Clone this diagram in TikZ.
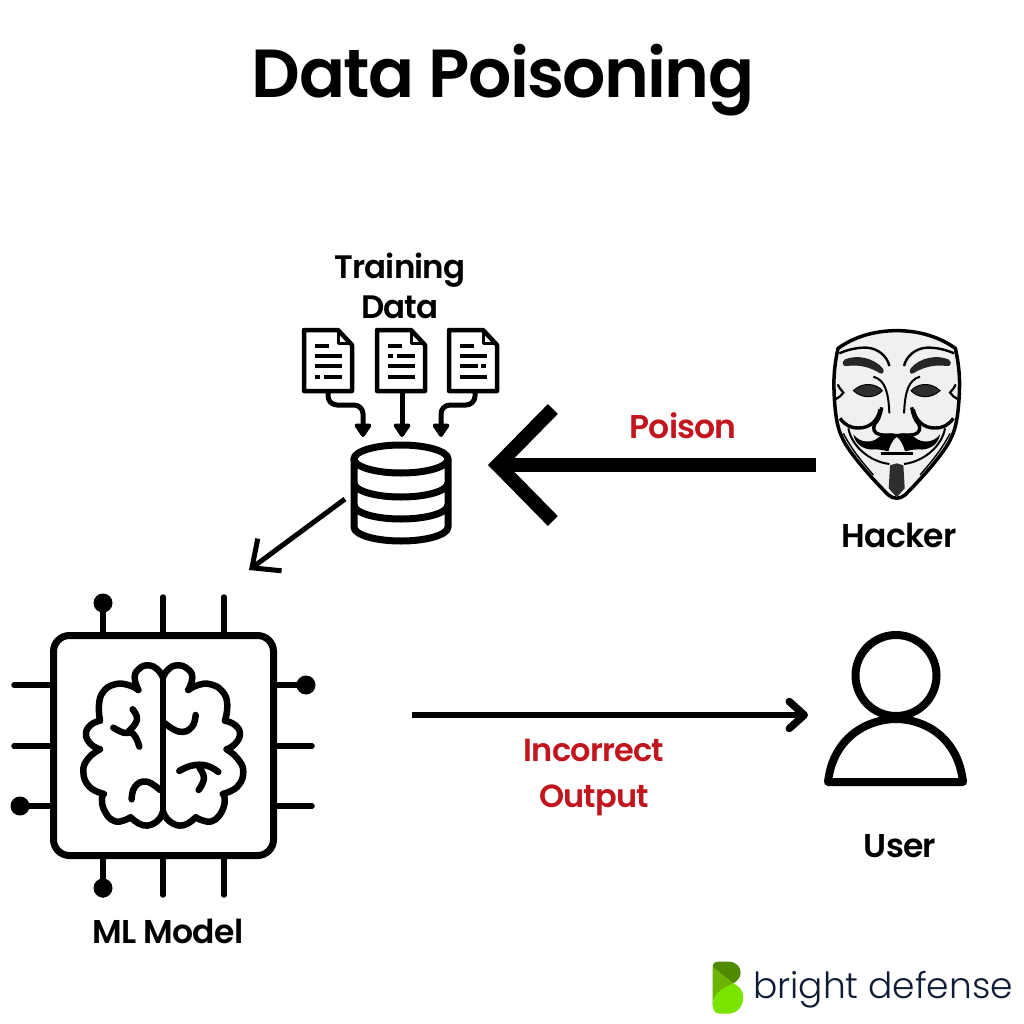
\documentclass[tikz,border=0pt]{standalone}
\usepackage{fontspec}
\setmainfont{Poppins}[BoldFont={Poppins SemiBold}, BoldFeatures={LetterSpace=-2.5}]
\newfontfamily\logofont{Poppins Light}
\usetikzlibrary{arrows.meta}
\definecolor{poisonred}{HTML}{C1161E}
\definecolor{maskgrey}{HTML}{F0F0F0}
\definecolor{maskdark}{HTML}{2E2E2E}
\definecolor{logonavy}{HTML}{101B35}
\definecolor{logodark}{HTML}{4F8A00}
\definecolor{logomid}{HTML}{6DB400}
\definecolor{logolight}{HTML}{7BE300}
\tikzset{
    main label/.style={font=\fontsize{33}{33}\selectfont\bfseries, align=center, inner sep=0pt, text=black},
    red label/.style={main label, text=poisonred},
    page line/.style={line width=4pt, line cap=butt},
    doc arrow/.style={line width=5pt, rounded corners=9pt, -{Triangle[length=15pt,width=19pt,round]}},
    pin/.style={line width=5.5pt, line cap=round},
    brain line/.style={line width=6.5pt, line cap=round, line join=round},
    pics/docpage/.style={code={
        \draw[line width=4.5pt, line join=round, fill=white] (0,0) -- (34,0) -- (48,15) -- (48,61) -- (0,61) -- cycle;
        \draw[line width=3pt, line join=round] (34,1) -- (34,13) -- (47,13);
    }}
}
\begin{document}
\begin{tikzpicture}[x=1pt, y=-1pt]
    \tikzstyle{every node}=[inner sep=0pt]
    \fill[white] (0,0) rectangle (1024,1024);
    \useasboundingbox (0,0) rectangle (1024,1024);

    \node[main label, font=\fontsize{68}{68}\selectfont\bfseries] (title) at (503,80) {Data Poisoning};
    \node[main label, font=\fontsize{32.5}{40}\selectfont\bfseries] (training) at (400,286) {Training\\Data};
    \node[main label] (hackerlabel) at (899,535) {Hacker};
    \node[main label] (userlabel) at (900,846) {User};
    \node[main label] (modellabel) at (168,931) {ML Model};
    \node[red label] (poison) at (683,426) {Poison};
    \node[red label, font=\fontsize{32}{46}\selectfont\bfseries] (output) at (594,778) {Incorrect\\Output};

    \pic (doca) at (304,330) {docpage};
    \pic (docb) at (377,330) {docpage};
    \pic (docc) at (449,330) {docpage};
    \foreach \x/\y/\w in {315/346/14, 315/356/27, 315/366/27, 324/377/18, 388/346/14, 397/356/18, 388/366/27, 388/377/27, 460/346/14, 460/356/27, 460/366/18, 460/377/27}
        \draw[page line] (\x,\y) -- ++(\w,0);
    \foreach \x/\y in {315/377, 388/356, 481/366}
        \fill (\x,\y-2) rectangle ++(4.5,4);

    \coordinate (docaout) at (328,391);
    \coordinate (docbout) at (402,391);
    \coordinate (doccout) at (475,391);
    \coordinate (dbtopa) at (363,437);
    \coordinate (dbtopb) at (402,437);
    \coordinate (dbtopc) at (441,437);
    \draw[doc arrow] (docaout) -- (328,405) -- (363,405) -- (dbtopa);
    \draw[doc arrow] (docbout) -- (dbtopb);
    \draw[doc arrow] (doccout) -- (475,405) -- (441,405) -- (dbtopc);

    \draw[line width=7pt, line join=round] (354,459) -- (354,527) arc[start angle=180, end angle=360, x radius=47pt, y radius=14pt] -- (448,459);
    \draw[line width=7pt] (401,459) ellipse [x radius=47pt, y radius=14pt];
    \foreach \y in {483,505}
        \draw[line width=7pt] (354,\y) arc[start angle=180, end angle=360, x radius=47pt, y radius=14pt];

    \coordinate (maskleft) at (816,465);
    \coordinate (dbright) at (488,465);
    \coordinate (dbleft) at (345,499);
    \coordinate (chiptop) at (249,570);
    \coordinate (chipright) at (412,715);
    \coordinate (userleft) at (808,715);
    \path (maskleft) edge[line width=14pt, -{Straight Barb[length=55pt,width=112pt,line width=14pt]}] (dbright);
    \path (dbleft) edge[line width=5pt, -{Straight Barb[length=22pt,width=40pt,line width=5pt]}] (chiptop);
    \path (chipright) edge[line width=6.5pt, -{Straight Barb[round,length=15pt,width=27pt,line width=7.5pt]}] (userleft);

    \node[draw, line width=7pt, rounded corners=16pt, minimum size=220pt] (chip) at (163.5,745.5) {};
    \foreach \x in {103,163,224} {
        \draw[pin] (\x,597) -- (\x,632);
        \draw[pin] (\x,859) -- (\x,895);
    }
    \foreach \y in {685,746,806} {
        \draw[pin] (14,\y) -- (50,\y);
        \draw[pin] (277,\y) -- (312,\y);
    }
    \foreach \x/\y in {103/603, 103/888, 306/685, 20/806}
        \fill (\x,\y) circle (9.5pt);

    \begin{scope}[shift={(0,590)}, x=0.3333pt, y=-0.3333pt]
        \draw[brain line] (489,255) -- (489,670);
        \draw[brain line] plot[smooth, tension=.8] coordinates {(489,262) (472,238) (445,226) (418,236) (404,262) (415,300)};
        \draw[brain line] plot[smooth, tension=.8] coordinates {(415,300) (385,285) (345,283) (310,305) (297,345) (300,392)};
        \draw[brain line] plot[smooth, tension=.8] coordinates {(300,392) (272,405) (258,432) (272,462) (300,478)};
        \draw[brain line] plot[smooth, tension=.8] coordinates {(300,478) (265,505) (250,545) (268,590) (312,612)};
        \draw[brain line] plot[smooth, tension=.8] coordinates {(308,612) (310,655) (345,694) (392,682)};
        \draw[brain line] plot[smooth, tension=.8] coordinates {(392,682) (430,706) (470,695) (489,665)};
        \draw[brain line] plot[smooth, tension=.8] coordinates {(395,628) (405,590) (440,575) (480,600)};
        \draw[brain line] plot[smooth, tension=.8] coordinates {(398,358) (411,390) (385,425)};
        \draw[brain line] plot[smooth, tension=.8] coordinates {(340,413) (370,428) (400,432) (418,470)};
        \draw[brain line] plot[smooth, tension=.8] coordinates {(489,262) (505,238) (532,226) (562,236) (577,262) (565,300)};
        \draw[brain line] plot[smooth, tension=.8] coordinates {(565,300) (595,285) (632,283) (668,305) (682,345) (675,392)};
        \draw[brain line] plot[smooth, tension=.8] coordinates {(675,392) (705,405) (720,432) (705,462) (680,478)};
        \draw[brain line] plot[smooth, tension=.8] coordinates {(680,478) (712,505) (730,545) (712,590) (668,612)};
        \draw[brain line] plot[smooth, tension=.8] coordinates {(672,612) (670,655) (635,694) (587,682)};
        \draw[brain line] plot[smooth, tension=.8] coordinates {(587,682) (550,706) (510,695) (489,665)};
        \draw[brain line] plot[smooth, tension=.8] coordinates {(587,375) (575,412) (538,425) (495,400)};
        \draw[brain line] plot[smooth, tension=.8] coordinates {(538,543) (575,527) (620,527) (655,546)};
        \draw[brain line] plot[smooth, tension=.8] coordinates {(598,533) (612,565) (596,600)};
    \end{scope}

    \begin{scope}[shift={(896.7,320)}, x=0.3333pt, y=-0.3333pt]
        \draw[line width=3.5pt, line join=round, fill=maskgrey] (0,32) .. controls (-70,32) and (-130,52) .. (-176,85)
            .. controls (-186,130) and (-190,170) .. (-188,215) .. controls (-186,270) and (-180,320) .. (-165,350)
            .. controls (-145,400) and (-60,490) .. (-25,525) .. controls (-10,538) and (10,538) .. (25,525)
            .. controls (60,490) and (145,400) .. (165,350) .. controls (180,320) and (186,270) .. (188,215)
            .. controls (190,170) and (186,130) .. (176,85) .. controls (130,52) and (70,32) .. (0,32) -- cycle;
        \fill[maskdark, line join=round] (0,430) -- (20,436) -- (24,505) -- (0,532) -- (-24,505) -- (-20,436) -- cycle;
        \draw[line width=2.8pt] (-48,400) -- (48,400);
    \end{scope}
    \foreach \sx in {0.3333pt,-0.3333pt} {
        \begin{scope}[shift={(896.7,320)}, x=\sx, y=-0.3333pt]
            \fill[black!85] (42,145) .. controls (70,112) and (120,104) .. (155,118) .. controls (168,128) and (162,140) .. (150,138) .. controls (110,132) and (75,144) .. (50,160) .. controls (40,165) and (36,152) .. (42,145) -- cycle;
            \draw[line width=2.4pt] (22,138) .. controls (28,110) and (55,85) .. (90,83) .. controls (120,82) and (150,90) .. (172,100);
            \fill[maskdark, draw=black, line width=1pt] (43,212) .. controls (60,192) and (100,183) .. (130,212) .. controls (100,240) and (60,232) .. (43,212) -- cycle;
            \draw[line width=2pt] (70,170) .. controls (35,180) and (25,215) .. (22,280);
            \draw[line width=2.2pt, line cap=round] (176,195) .. controls (170,210) and (162,212) .. (160,218) .. controls (165,228) and (175,232) .. (184,238);
            \draw[line width=3.4pt, line join=round] (45,262) .. controls (50,290) and (55,300) .. (66,312) .. controls (72,325) and (70,340) .. (50,344) .. controls (30,347) and (15,345) .. (0,347);
            \draw[line width=3.4pt] (50,268) .. controls (55,300) and (80,325) .. (115,324) .. controls (140,324) and (155,315) .. (170,295);
            \fill[black] (0,345) .. controls (20,333) and (45,343) .. (55,353) .. controls (75,370) and (110,370) .. (130,343) .. controls (125,378) and (90,392) .. (65,388) .. controls (45,388) and (28,394) .. (25,394) .. controls (20,375) and (12,360) .. (0,350) -- cycle;
            \draw[line width=2pt] (145,325) .. controls (135,380) and (80,425) .. (22,432);
            \draw[line width=1.4pt] (160,340) .. controls (135,390) and (100,430) .. (70,465);
        \end{scope}
    }

    \draw[line width=8pt] (896,675.5) circle (40.5pt);
    \draw[line width=8pt, line join=round] (828,782) .. controls (833,737) and (868,719) .. (896,719) .. controls (924,719) and (958,737) .. (963,782) -- cycle;

    \begin{scope}[shift={(700,950)}, x=0.3333pt, y=-0.3333pt]
        \fill[logomid] (38,50) -- (100,100) -- (60,125) .. controls (45,135) and (38,150) .. (38,165) -- cycle;
        \fill[logodark] (38,50) .. controls (38,40) and (45,35) .. (55,35) -- (85,35) .. controls (110,35) and (122,52) .. (122,68) .. controls (122,82) and (112,93) .. (100,100) -- cycle;
        \fill[logolight] (38,165) .. controls (38,140) and (55,122) .. (75,112) -- (100,100) .. controls (118,108) and (130,122) .. (130,142) .. controls (130,170) and (110,191) .. (85,191) -- (60,191) .. controls (45,191) and (38,180) .. (38,165) -- cycle;
    \end{scope}
    \node[text=logonavy, font=\logofont\fontsize{36}{36}\selectfont] (logotext) at (883,990) {bright defense};
\end{tikzpicture}
\end{document}
